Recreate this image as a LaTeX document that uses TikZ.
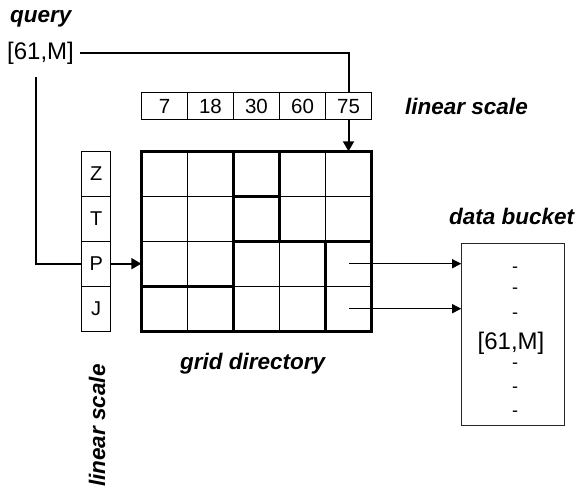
\documentclass[tikz,border=0pt]{standalone}
\usepackage{fontspec}
\setmainfont{Liberation Sans}
\usetikzlibrary{arrows.meta}
\begin{document}
\begin{tikzpicture}[x=1pt,y=-1pt,
  lbl/.style={font=\fontsize{22.5}{24}\selectfont\bfseries\itshape, inner sep=0pt, anchor=base west},
  val/.style={font=\fontsize{24}{25}\selectfont, inner sep=0pt},
  dashtxt/.style={font=\fontsize{18}{18}\selectfont, inner sep=0pt},
  hcell/.style={draw, line width=1pt, minimum width=46pt, minimum height=27.3pt, inner sep=0pt, font=\fontsize{20.5}{22}\selectfont},
  vcell/.style={draw, line width=1pt, minimum width=29pt, minimum height=44.9pt, inner sep=0pt, font=\fontsize{20}{22}\selectfont},
  conn/.style={line width=2pt},
  thinconn/.style={line width=1pt},
  thin/.style={line width=1pt},
  thick/.style={line width=2.8pt},
  bighead/.style={-{Triangle[length=10pt,width=11pt]}},
  smallhead/.style={-{Triangle[length=9pt,width=9pt]}}
]
\useasboundingbox (0,0) rectangle (581,486);

% query
\node[lbl] (qlabel) at (10,23) {query};
\node[val] (q) at (40.5,53) {[61,M]};
\coordinate (qd) at (35.7,77);

% horizontal linear scale
\node[hcell] (s1) at (164.5,106.3) {7};
\node[hcell] (s2) at (210.5,106.3) {18};
\node[hcell] (s3) at (256.5,106.3) {30};
\node[hcell] (s4) at (302.5,106.3) {60};
\node[hcell] (s5) at (348.5,106.3) {75};
\node[lbl] (hscale) at (405,115) {linear scale};

% vertical linear scale
\node[vcell] (Z) at (96.2,173.9) {Z};
\node[vcell] (T) at (96.2,218.8) {T};
\node[vcell] (P) at (96.2,263.7) {P};
\node[vcell] (J) at (96.2,308.6) {J};
\node[lbl, rotate=90] (vscale) at (105,487) {linear scale};

% grid directory
\node[minimum width=230pt, minimum height=179.6pt, inner sep=0pt] (grid) at (256.5,241.3) {};
% thin lines
\draw[thin] (187.5,151.5) -- (187.5,331.1);
\draw[thin] (325.5,151.5) -- (325.5,241.3);
\draw[thin] (279.5,241.3) -- (279.5,331.1);
\draw[thin] (141.5,196.4) -- (233.5,196.4);
\draw[thin] (279.5,196.4) -- (371.5,196.4);
\draw[thin] (141.5,241.3) -- (233.5,241.3);
\draw[thin] (233.5,286.2) -- (371.5,286.2);
% thick lines
\draw[thick] (233.5,151.5) -- (233.5,331.1);
\draw[thick] (279.5,151.5) -- (279.5,241.3);
\draw[thick] (233.5,196.4) -- (279.5,196.4);
\draw[thick] (233.5,241.3) -- (371.5,241.3);
\draw[thick] (325.5,241.3) -- (325.5,331.1);
\draw[thick] (141.5,286.2) -- (233.5,286.2);
\draw[line width=3.2pt] (grid.north west) rectangle (grid.south east);
\node[lbl] (gdlabel) at (180,370) {grid directory};

% cells pointing to bucket
\coordinate (c35) at (349,263.7);
\coordinate (c45) at (349,308.7);

% data bucket
\node[draw=black!85, line width=1pt, minimum width=102.6pt, minimum height=182.4pt, inner sep=0pt] (bucket) at (513,334.5) {};
\node[lbl] (dblabel) at (449,225) {data bucket};
\node[dashtxt] (b1) at (515,269.3) {-};
\node[dashtxt] (b2) at (515,291) {-};
\node[dashtxt] (b3) at (515,315.7) {-};
\node[val] (b4) at (511,343.3) {[61,M]};
\node[dashtxt] (b5) at (515,366) {-};
\node[dashtxt] (b6) at (515,389.3) {-};
\node[dashtxt] (b7) at (515,413.3) {-};

% connectors
\draw[conn] ([xshift=6pt]q.east) -| (s5.north);
\draw[conn, bighead] (s5.south) -- (s5.south |- grid.north);
\draw[conn] (qd) |- (P.west);
\draw[conn, bighead] (P.east) -- (P.east -| grid.west);
\draw[thinconn, smallhead] (c35) -- (c35 -| bucket.west);
\draw[thinconn, smallhead] (c45) -- (c45 -| bucket.west);
\end{tikzpicture}
\end{document}
